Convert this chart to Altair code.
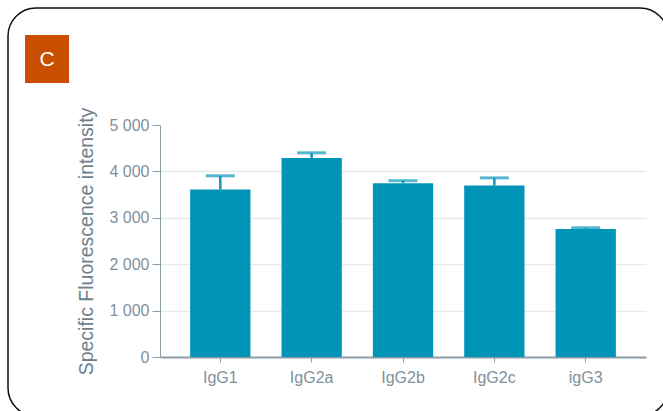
import altair as alt
import pandas as pd

# Isotype subclasses and their measured intensities
subclasses = ["IgG1", "IgG2a", "IgG2b", "IgG2c", "igG3"]
intensity = [3610, 4290, 3745, 3695, 2760]
upper_err = [3905, 4400, 3800, 3860, 2785]
y_ticks = [0, 1000, 2000, 3000, 4000, 5000]

df = pd.DataFrame({"sub": subclasses, "val": intensity, "hi": upper_err})
one = pd.DataFrame({"k": [0]})

BAR = "#0094b6"
ERR = "#1198bc"
AXIS = "#8d9ea9"
LABEL = "#7f909c"
FONT = "Liberation Sans"

x_enc = alt.X(
    "sub:N",
    sort=subclasses,
    title=None,
    scale=alt.Scale(paddingInner=0.34, paddingOuter=0.33),
    axis=alt.Axis(labelAngle=0, tickSize=5, labelPadding=7, domainWidth=2,
                  domainColor=AXIS, tickColor=AXIS, labelColor=LABEL,
                  labelFontSize=16, labelFont=FONT, grid=False),
)
y_scale = alt.Scale(domain=[0, 5000], nice=False)

bars = alt.Chart(df).mark_bar(color=BAR).encode(
    x=x_enc,
    y=alt.Y(
        "val:Q",
        scale=y_scale,
        title="Specific Fluorescence intensity",
        axis=alt.Axis(
            values=y_ticks,
            labelExpr="replace(format(datum.value, ','), ',', ' ')",
            tickSize=8, labelPadding=3, domainColor=AXIS, tickColor=AXIS,
            labelColor=LABEL, labelFontSize=16, labelFont=FONT,
            titleColor="#6c7f8d", titleFontSize=19.5, titleFont=FONT,
            titleFontWeight="normal", titlePadding=12,
            grid=True, gridColor="#e6eaec", gridWidth=1.5,
            gridOpacity={"condition": {"test": "datum.value >= 5000", "value": 0}, "value": 1},
        ),
    ),
)

err_line = alt.Chart(df).mark_rule(color=ERR, strokeWidth=2.5).encode(
    x=alt.X("sub:N", sort=subclasses),
    y=alt.Y("val:Q", scale=y_scale),
    y2="hi:Q",
)

err_cap = alt.Chart(df).mark_tick(color=ERR, thickness=3, size=29, orient="horizontal").encode(
    x=alt.X("sub:N", sort=subclasses),
    y=alt.Y("hi:Q", scale=y_scale),
)

# Rounded panel frame around the figure
frame = alt.Chart(one).mark_rect(
    fillOpacity=0, stroke="#111111", strokeWidth=1.5, cornerRadius=28, clip=False
).encode(
    x=alt.value(-152), x2=alt.value(508), y=alt.value(-117), y2=alt.value(291)
)

# Panel letter badge
badge = alt.Chart(one).mark_rect(color="#c84e00", clip=False).encode(
    x=alt.value(-135), x2=alt.value(-91), y=alt.value(-90), y2=alt.value(-42)
)
badge_text = alt.Chart(one).mark_text(
    text="C", color="white", fontSize=21, font=FONT, align="center", baseline="middle"
).encode(x=alt.value(-113), y=alt.value(-65))

chart = alt.layer(frame, bars, err_line, err_cap, badge, badge_text).properties(
    width=486,
    height=232,
    autosize=alt.AutoSizeParams(type="none"),
    padding={"left": 160, "top": 125, "right": 17, "bottom": 54},
    background="white",
).configure_view(stroke=None)

chart.save("out.html", embed_options={"renderer": "svg", "actions": False})
